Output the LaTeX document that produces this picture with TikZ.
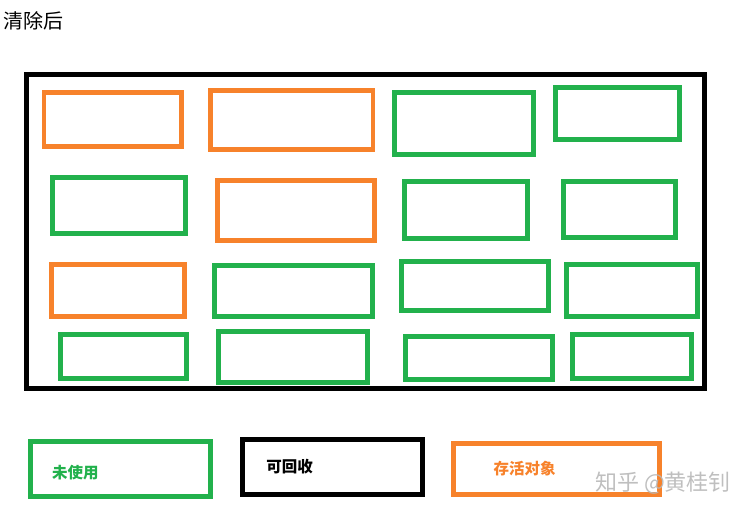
\documentclass[tikz,border=0pt]{standalone}
\usepackage{fontspec}
\usepackage{tikz}
\newfontfamily\cjk{Noto Sans CJK SC}
\definecolor{freegreen}{HTML}{22B14C}
\definecolor{liveorange}{HTML}{F7822B}
\definecolor{markgray}{gray}{0.72}

\begin{document}
\begin{tikzpicture}[
  x=1pt, y=-1pt,
  blk/.style={draw, line width=4.7pt, inner sep=0pt, outer sep=0pt},
  free/.style={blk, draw=freegreen},
  live/.style={blk, draw=liveorange},
  reclaim/.style={blk, draw=black, line width=5pt},
  heap/.style={draw=black, line width=5.3pt, inner sep=0pt},
  lab/.style={font=\cjk\fontsize{15.5}{16}\selectfont\bfseries, inner sep=0pt}
]
\useasboundingbox (0,0) rectangle (753,516);
\node[font=\cjk\fontsize{20}{22}\selectfont, anchor=west, inner sep=0pt] (title) at (3,21) {清除后};
% heap after sweep
\node[heap, minimum width=678.2pt, minimum height=313.7pt] (heap) at (365.4,231.45) {};
% row 1
\node[live, minimum width=137.7pt, minimum height=54.4pt] (a1) at (112.85,119.5) {};
\node[live, minimum width=162.7pt, minimum height=59pt] (a2) at (291.65,119.8) {};
\node[free, minimum width=138.6pt, minimum height=61.6pt] (a3) at (464,123.5) {};
\node[free, minimum width=124pt, minimum height=52pt] (a4) at (617.3,113.3) {};
% row 2
\node[free, minimum width=133.4pt, minimum height=56pt] (b1) at (119,205.3) {};
\node[live, minimum width=157.4pt, minimum height=59.6pt] (b2) at (296,210.5) {};
\node[free, minimum width=123pt, minimum height=57pt] (b3) at (465.8,209.8) {};
\node[free, minimum width=112pt, minimum height=56pt] (b4) at (619.3,209.3) {};
% row 3
\node[live, minimum width=133.4pt, minimum height=52pt] (c1) at (118,290.3) {};
\node[free, minimum width=158.4pt, minimum height=51.4pt] (c2) at (293.5,291) {};
\node[free, minimum width=147.4pt, minimum height=49pt] (c3) at (475,285.8) {};
\node[free, minimum width=131.4pt, minimum height=52.4pt] (c4) at (632,290.5) {};
% row 4
\node[free, minimum width=126.4pt, minimum height=44.4pt] (d1) at (123.5,356.5) {};
\node[free, minimum width=149.4pt, minimum height=51.4pt] (d2) at (293,357) {};
\node[free, minimum width=147.4pt, minimum height=43.4pt] (d3) at (479,358) {};
\node[free, minimum width=119.4pt, minimum height=44.4pt] (d4) at (632,356.5) {};
% legend
\node[free, line width=5pt, minimum width=179.5pt, minimum height=55.5pt] (kfree) at (120.25,468.75) {};
\node[reclaim, minimum width=180pt, minimum height=54.4pt] (kreclaim) at (332.5,467) {};
\node[live, line width=5pt, minimum width=205.5pt, minimum height=50.5pt] (klive) at (556.25,468.75) {};
\node[lab, text=freegreen] (tfree) at (75.5,472.5) {未使用};
\node[lab, text=black] (treclaim) at (289.5,466.5) {可回收};
\node[lab, text=liveorange] (tlive) at (524.7,468.7) {存活对象};
\node[font=\cjk\fontsize{22}{23}\selectfont, text=markgray, text opacity=0.9, inner sep=0pt] (mark) at (663,483.3) {知乎 @黄桂钊};
\end{tikzpicture}
\end{document}
